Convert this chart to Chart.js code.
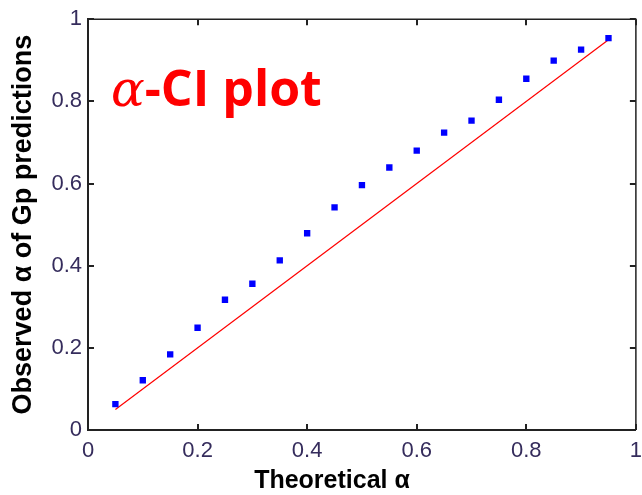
<!DOCTYPE html>
<html lang="en">
<head>
    <meta charset="UTF-8">
    <script src="https://cdn.jsdelivr.net/npm/chart.js"></script>
    <title>alpha-CI plot</title>
    <style>
        body {
            margin: 0;
            padding: 0;
            background: #fff;
            overflow: hidden;
        }
        .wrap {
            position: relative;
            width: 642px;
            height: 495px;
            overflow: hidden;
        }
        canvas {
            position: absolute;
            left: 0;
            top: 0;
        }
        .label-big {
            position: absolute;
            left: 111px;
            top: 62px;
            color: #ff0000;
            font-family: "Open Sans", Lato, sans-serif;
            font-weight: bold;
            font-size: 50px;
            line-height: 1;
            white-space: nowrap;
        }
        .label-big .greek {
            font-family: "DejaVu Serif", serif;
            font-style: italic;
            font-weight: normal;
        }
        .x-title {
            position: absolute;
            left: 232px;
            top: 465px;
            width: 200px;
            text-align: center;
            font-family: "Liberation Sans", Arial, sans-serif;
            font-weight: bold;
            font-size: 25px;
            color: #000;
        }
    </style>
</head>
<body>
<div class="wrap">
    <canvas id="ciChart" width="650" height="495"></canvas>
    <div class="label-big"><span class="greek">α</span>-CI plot</div>
    <div class="x-title">Theoretical α</div>
</div>

<script>
    // theoretical alpha levels and what the GP predictions actually covered
    const theoretical = [0.05, 0.10, 0.15, 0.20, 0.25, 0.30, 0.35, 0.40, 0.45, 0.50,
                         0.55, 0.60, 0.65, 0.70, 0.75, 0.80, 0.85, 0.90, 0.95];
    const observed = [0.063, 0.121, 0.184, 0.249, 0.317, 0.356, 0.413, 0.479, 0.542, 0.596,
                      0.639, 0.680, 0.724, 0.753, 0.804, 0.855, 0.899, 0.926, 0.954];
    // ideal y = x reference line
    const idealX = [0.05, 0.95];
    const idealY = [0.05, 0.95];
    const xTicks = [0, 0.2, 0.4, 0.6, 0.8, 1];
    const yTicks = [0, 0.2, 0.4, 0.6, 0.8, 1];

    const tickColor = '#352c5c';

    // matlab style: ticks point into the plot, box on all four sides
    const inwardTicks = {
        id: 'inwardTicks',
        afterDraw(chart) {
            const { ctx, chartArea: a, scales } = chart;
            const len = 6;
            ctx.save();
            ctx.strokeStyle = '#222';
            ctx.lineWidth = 1.5;
            ctx.beginPath();
            ctx.moveTo(a.left, a.top);
            ctx.lineTo(a.right, a.top);
            ctx.lineTo(a.right, a.bottom);
            ctx.stroke();
            ctx.lineWidth = 2;
            ctx.beginPath();
            scales.x.ticks.forEach((t, i) => {
                const px = Math.round(scales.x.getPixelForTick(i));
                ctx.moveTo(px, a.bottom);
                ctx.lineTo(px, a.bottom - len);
                ctx.moveTo(px, a.top);
                ctx.lineTo(px, a.top + len);
            });
            scales.y.ticks.forEach((t, i) => {
                const py = Math.round(scales.y.getPixelForTick(i));
                ctx.moveTo(a.left, py);
                ctx.lineTo(a.left + len, py);
                ctx.moveTo(a.right, py);
                ctx.lineTo(a.right - len, py);
            });
            ctx.stroke();
            ctx.restore();
        }
    };

    new Chart(document.getElementById('ciChart'), {
        type: 'scatter',
        data: {
            datasets: [{
                label: 'Observed',
                data: theoretical.map((x, i) => ({ x: x, y: observed[i] })),
                pointStyle: 'rect',
                pointRadius: 4.5,
                backgroundColor: '#0000ff',
                borderColor: '#0000ff',
                borderWidth: 0
            }, {
                label: 'Ideal',
                type: 'line',
                data: idealX.map((x, i) => ({ x: x, y: idealY[i] })),
                borderColor: '#ff0000',
                borderWidth: 1.2,
                pointRadius: 0,
                fill: false
            }]
        },
        options: {
            responsive: false,
            animation: false,
            layout: { padding: { left: 0, top: 17, right: 7, bottom: 0 } },
            plugins: {
                legend: { display: false },
                tooltip: { enabled: false }
            },
            scales: {
                x: {
                    type: 'linear',
                    min: 0,
                    max: 1,
                    afterBuildTicks: s => { s.ticks = xTicks.map(v => ({ value: v })); },
                    afterFit: s => { s.height = 65; },
                    grid: { drawOnChartArea: false, drawTicks: false },
                    border: { display: true, color: '#222', width: 2 },
                    ticks: {
                        padding: 8,
                        color: tickColor,
                        autoSkip: false,
                        maxRotation: 0,
                        font: { family: 'Liberation Sans', size: 22 },
                        callback: v => String(v)
                    }
                },
                y: {
                    type: 'linear',
                    min: 0,
                    max: 1,
                    afterBuildTicks: s => { s.ticks = yTicks.map(v => ({ value: v })); },
                    afterFit: s => { s.width = 88; },
                    grid: { drawOnChartArea: false, drawTicks: false },
                    border: { display: true, color: '#222', width: 2 },
                    title: {
                        display: true,
                        text: 'Observed α of Gp predictions',
                        color: '#000',
                        padding: { top: 7, bottom: 0 },
                        font: { family: 'Liberation Sans', size: 27, weight: 'bold' }
                    },
                    ticks: {
                        padding: 6,
                        color: tickColor,
                        autoSkip: false,
                        font: { family: 'Liberation Sans', size: 22 },
                        callback: v => String(v)
                    }
                }
            }
        },
        plugins: [inwardTicks]
    });
</script>
</body>
</html>
